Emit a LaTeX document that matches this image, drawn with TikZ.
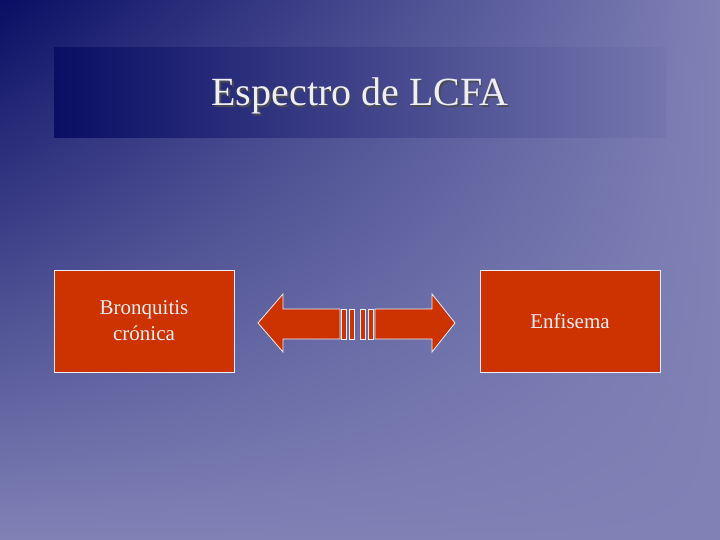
\documentclass[tikz,border=0pt]{standalone}
\usepackage{fontspec}
\setmainfont{Liberation Serif}
\usetikzlibrary{shadings}
\definecolor{navy}{RGB}{10,14,100}
\definecolor{lav}{RGB}{128,130,182}
\definecolor{brick}{RGB}{204,51,0}
\definecolor{pale}{RGB}{238,238,245}
\begin{document}
\begin{tikzpicture}[x=1pt,y=-1pt,
  disease box/.style={draw=pale, fill=brick, line width=0.8pt, text=pale, font=\fontsize{21}{26}\selectfont, align=center, minimum width=180pt, minimum height=102pt, inner sep=0pt},
  arrow part/.style={draw=pale, fill=brick, line width=0.8pt}]
  \useasboundingbox (0,0) rectangle (720,540);
  % background
  \shade[upper left=navy, upper right=lav, lower left=lav, lower right=lav] (0,0) rectangle (720,540);
  % title band
  \shade[left color=navy, right color=lav!90!navy] (54,48) rectangle (666,138);
  \node[font=\fontsize{40}{46}\selectfont, text=black!70] (shadow) at (361.5,97.5) {Espectro de LCFA};
  \node[font=\fontsize{40}{46}\selectfont, text=pale] (title) at (360,96) {Espectro de LCFA};

  \node[disease box] (bronq) at (144,321) {Bronquitis\\crónica};
  \node[disease box] (enfis) at (570,321) {Enfisema};

  % double arrow
  \draw[arrow part] (340,309) -- (283,309) -- (283,294) -- (258,323) -- (283,352) -- (283,339) -- (340,339) -- cycle;
  \draw[arrow part] (375,309) -- (432,309) -- (432,294) -- (455,323) -- (432,352) -- (432,339) -- (375,339) -- cycle;
  \foreach \xa/\xb in {341/346, 349/354, 360/365, 368/373}
    \draw[arrow part] (\xa,309) rectangle (\xb,339);
\end{tikzpicture}
\end{document}
